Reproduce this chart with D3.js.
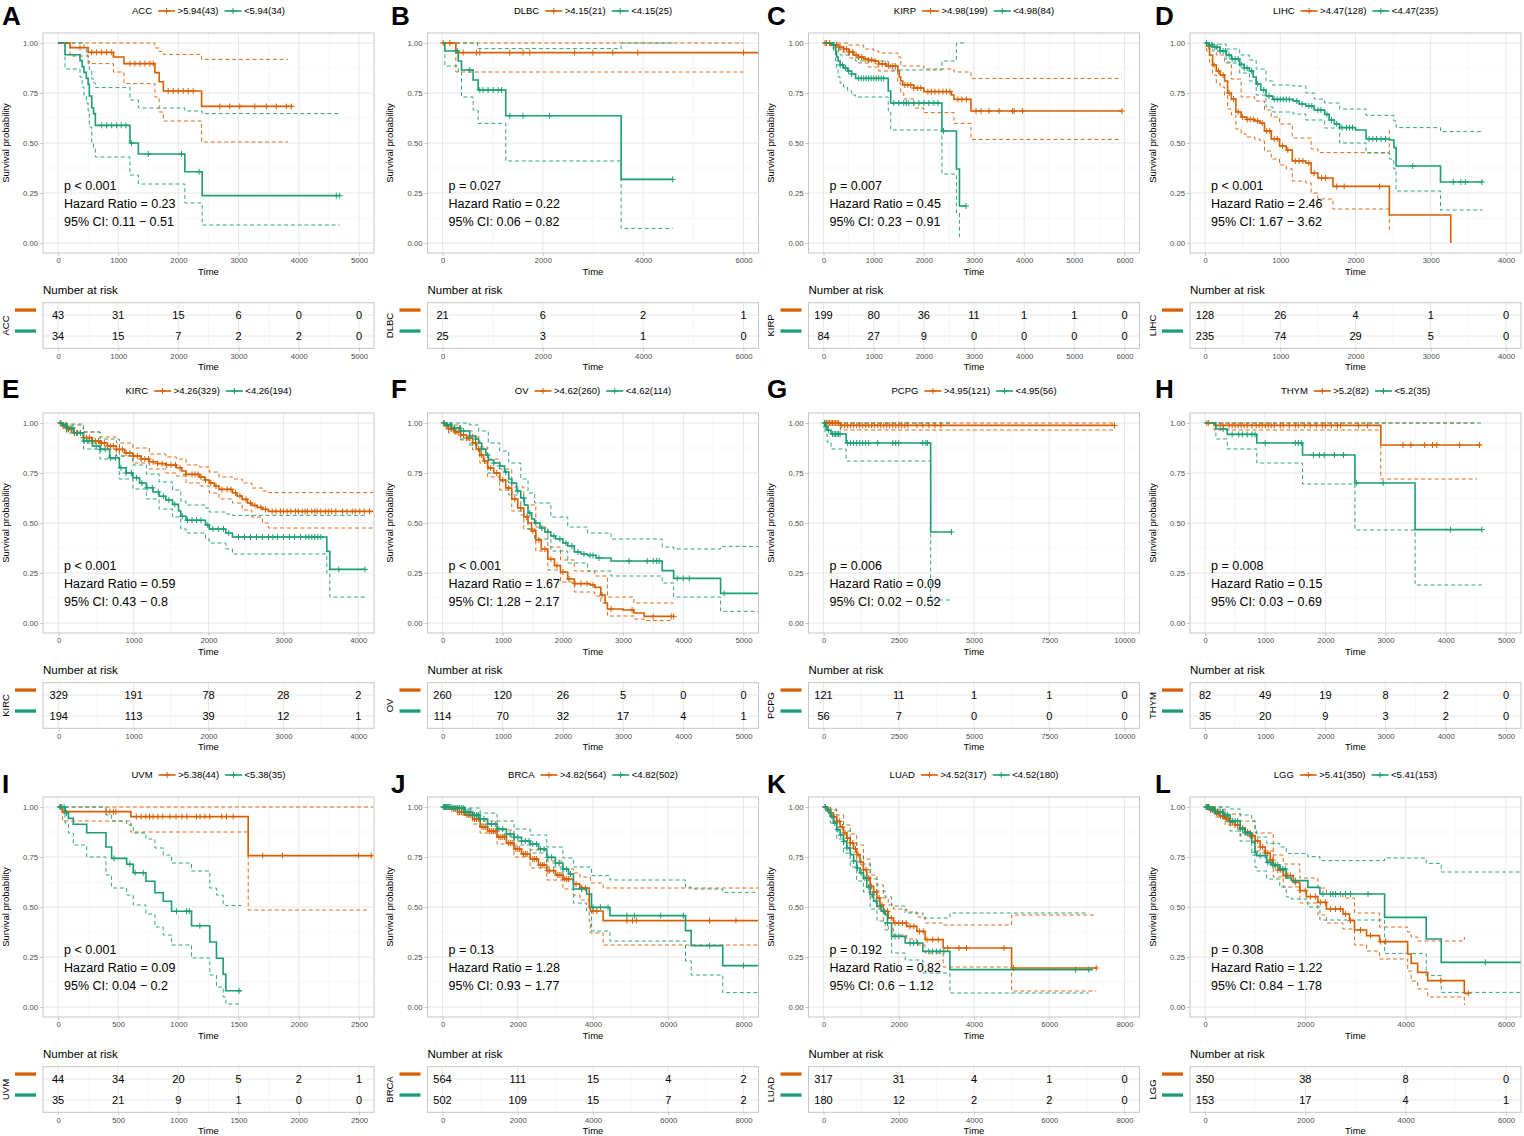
<!DOCTYPE html>
<html lang="en">
<head>
<meta charset="UTF-8" />
<script src="https://cdn.jsdelivr.net/npm/d3@7"></script>
<style>
  body { margin: 0; background: #fff; }
  text { font-family: "Liberation Sans", Arial, Helvetica, sans-serif; }
</style>
<title>KM panels</title>
</head>
<body>
<script>
// ---- data ----
var cancers = ["ACC","DLBC","KIRP","LIHC","KIRC","OV","PCPG","THYM","UVM","BRCA","LUAD","LGG"];
var letters = ["A","B","C","D","E","F","G","H","I","J","K","L"];
var cutoffs = ["5.94","4.15","4.98","4.47","4.26","4.62","4.95","5.2","5.38","4.82","4.52","5.41"];
var nHigh = [43,21,199,128,329,260,121,82,44,564,317,350];
var nLow  = [34,25,84,235,194,114,56,35,35,502,180,153];
var pTexts  = ["p < 0.001","p = 0.027","p = 0.007","p < 0.001","p < 0.001","p < 0.001","p = 0.006","p = 0.008","p < 0.001","p = 0.13","p = 0.192","p = 0.308"];
var hrTexts = ["0.23","0.22","0.45","2.46","0.59","1.67","0.09","0.15","0.09","1.28","0.82","1.22"];
var ciTexts = ["0.11 − 0.51","0.06 − 0.82","0.23 − 0.91","1.67 − 3.62","0.43 − 0.8","1.28 − 2.17","0.02 − 0.52","0.03 − 0.69","0.04 − 0.2","0.93 − 1.77","0.6 − 1.12","0.84 − 1.78"];

var xTicks = [
  [0,1000,2000,3000,4000,5000], [0,2000,4000,6000], [0,1000,2000,3000,4000,5000,6000], [0,1000,2000,3000,4000],
  [0,1000,2000,3000,4000], [0,1000,2000,3000,4000,5000], [0,2500,5000,7500,10000], [0,1000,2000,3000,4000,5000],
  [0,500,1000,1500,2000,2500], [0,2000,4000,6000,8000], [0,2000,4000,6000,8000], [0,2000,4000,6000]
];
var xDomains = [[-250,5250],[-300,6300],[-300,6300],[-200,4200],[-210,4210],[-250,5250],[-500,10500],[-250,5250],[-125,2625],[-400,8400],[-400,8400],[-300,6300]];

var riskHigh = [[43,31,15,6,0,0],[21,6,2,1],[199,80,36,11,1,1,0],[128,26,4,1,0],[329,191,78,28,2],[260,120,26,5,0,0],[121,11,1,1,0],[82,49,19,8,2,0],[44,34,20,5,2,1],[564,111,15,4,2],[317,31,4,1,0],[350,38,8,0]];
var riskLow  = [[34,15,7,2,2,0],[25,3,1,0],[84,27,9,0,0,0,0],[235,74,29,5,0],[194,113,39,12,1],[114,70,32,17,4,1],[56,7,0,0,0],[35,20,9,3,2,0],[35,21,9,1,0,0],[502,109,15,7,2],[180,12,2,2,0],[153,17,4,1]];

// survival steps [time, survival] for the high group
var kmHigh = [
  [[0,1],[200,0.977],[500,0.953],[920,0.93],[1095,0.897],[1610,0.852],[1680,0.806],[1750,0.76],[2385,0.683],[3900,0.683]],
  [[0,1],[265,0.952],[6300,0.952]],
  [[0,1],[150,0.99],[300,0.98],[400,0.97],[500,0.955],[600,0.94],[700,0.93],[800,0.92],[900,0.915],[1000,0.91],[1100,0.895],[1250,0.885],[1480,0.86],[1510,0.83],[1540,0.81],[1580,0.79],[1800,0.775],[2000,0.757],[2550,0.74],[2600,0.718],[2940,0.66],[5950,0.66]],
  [[0,1],[20,0.985],[60,0.94],[100,0.89],[150,0.86],[200,0.84],[260,0.81],[300,0.75],[350,0.72],[410,0.655],[480,0.63],[550,0.618],[660,0.61],[730,0.6],[790,0.56],[880,0.52],[990,0.485],[1080,0.465],[1160,0.41],[1340,0.4],[1410,0.35],[1500,0.325],[1700,0.283],[2450,0.14],[3266,0]],
  [[0,1],[50,0.985],[106,0.97],[200,0.95],[330,0.927],[450,0.91],[550,0.9],[650,0.885],[770,0.868],[880,0.85],[990,0.835],[1100,0.82],[1210,0.806],[1320,0.797],[1430,0.79],[1570,0.776],[1640,0.76],[1700,0.743],[1880,0.73],[1950,0.715],[2010,0.7],[2080,0.685],[2140,0.668],[2320,0.651],[2380,0.635],[2450,0.618],[2520,0.6],[2580,0.588],[2650,0.578],[2720,0.568],[2800,0.558],[4200,0.558]],
  [[0,1],[50,0.985],[100,0.97],[200,0.955],[300,0.94],[400,0.925],[500,0.9],[560,0.87],[620,0.84],[680,0.81],[750,0.775],[850,0.75],[950,0.715],[1050,0.675],[1150,0.62],[1250,0.575],[1350,0.53],[1420,0.5],[1480,0.46],[1550,0.415],[1640,0.37],[1750,0.32],[1860,0.287],[1960,0.255],[2080,0.22],[2190,0.197],[2450,0.19],[2530,0.178],[2630,0.14],[2700,0.1],[2740,0.07],[3000,0.065],[3180,0.05],[3350,0.033],[3840,0.033]],
  [[0,1],[560,0.988],[9670,0.988]],
  [[0,1],[150,0.988],[2920,0.89],[4580,0.89]],
  [[0,1],[36,0.977],[605,0.952],[1580,0.757],[2616,0.757]],
  [[0,1],[200,0.99],[400,0.975],[600,0.96],[800,0.94],[1000,0.9],[1200,0.88],[1450,0.85],[1700,0.82],[1900,0.79],[2100,0.765],[2330,0.74],[2550,0.71],[2770,0.682],[3000,0.66],[3200,0.64],[3480,0.615],[3650,0.595],[3900,0.5],[3930,0.48],[4270,0.432],[8400,0.432]],
  [[0,1],[100,0.985],[180,0.97],[260,0.95],[350,0.928],[440,0.9],[530,0.87],[620,0.845],[710,0.82],[800,0.79],[880,0.762],[970,0.725],[1060,0.687],[1150,0.645],[1240,0.603],[1330,0.575],[1420,0.545],[1500,0.51],[1590,0.478],[1720,0.445],[1860,0.42],[2210,0.403],[2480,0.378],[2700,0.337],[3180,0.295],[5000,0.195],[7260,0.195]],
  [[0,1],[100,0.985],[200,0.97],[300,0.955],[400,0.94],[500,0.925],[600,0.91],[700,0.895],[800,0.875],[900,0.855],[1000,0.83],[1100,0.8],[1200,0.77],[1300,0.735],[1360,0.707],[1450,0.685],[1560,0.657],[1760,0.623],[1890,0.582],[2020,0.552],[2250,0.523],[2420,0.49],[2750,0.465],[2880,0.432],[2980,0.385],[3220,0.357],[3480,0.327],[4040,0.265],[4110,0.218],[4240,0.173],[4440,0.132],[5170,0.068],[5270,0.068]]
];
var upHigh = [
  [[0,1],[1610,0.975],[1680,0.958],[1750,0.943],[2385,0.918],[3822,0.918]],
  [[0,1],[6000,1]],
  [[0,1],[500,0.99],[800,0.97],[1000,0.96],[1100,0.95],[1480,0.93],[1540,0.885],[2000,0.87],[2600,0.855],[2940,0.823],[5950,0.823]],
  [[0,1],[60,0.985],[150,0.94],[260,0.905],[350,0.82],[480,0.73],[660,0.71],[790,0.665],[880,0.63],[990,0.595],[1160,0.525],[1410,0.47],[1500,0.452],[1700,0.452],[2450,0.58]],
  [[0,1],[106,0.99],[330,0.955],[550,0.93],[770,0.9],[990,0.875],[1210,0.845],[1430,0.83],[1570,0.82],[1700,0.79],[1880,0.78],[2010,0.755],[2140,0.73],[2320,0.72],[2450,0.7],[2580,0.675],[2720,0.66],[2800,0.652],[4200,0.652]],
  [[0,1],[100,0.99],[300,0.96],[500,0.93],[620,0.88],[750,0.82],[950,0.77],[1150,0.68],[1350,0.59],[1550,0.48],[1750,0.38],[1960,0.315],[2190,0.26],[2530,0.235],[2740,0.13],[3180,0.1],[3840,0.1]],
  [[0,1],[9670,1]],
  [[0,1],[4520,1]],
  [[0,1],[2616,1]],
  [[0,1],[400,0.99],[800,0.965],[1000,0.93],[1450,0.885],[1900,0.83],[2330,0.785],[2770,0.73],[3200,0.69],[3480,0.67],[3650,0.65],[3930,0.62],[4270,0.595],[8400,0.595]],
  [[0,1],[180,0.99],[350,0.96],[530,0.91],[710,0.865],[880,0.81],[1060,0.74],[1240,0.66],[1420,0.61],[1590,0.545],[1720,0.51],[1860,0.49],[2210,0.475],[2480,0.45],[2700,0.42],[3180,0.41],[5000,0.46],[7250,0.46]],
  [[0,1],[200,0.99],[400,0.965],[700,0.93],[1000,0.87],[1360,0.76],[1560,0.715],[1890,0.645],[2250,0.595],[2420,0.565],[2750,0.545],[2980,0.47],[3480,0.4],[4040,0.375],[4110,0.35],[4240,0.33],[4440,0.33],[5170,0.35]]
];
var loHigh = [
  [[0,1],[200,0.935],[500,0.897],[920,0.855],[1095,0.797],[1610,0.73],[1680,0.655],[1750,0.61],[2385,0.505],[3822,0.505]],
  [[0,1],[265,0.855],[6000,0.855]],
  [[0,1],[150,0.975],[300,0.955],[500,0.925],[700,0.9],[900,0.88],[1100,0.86],[1480,0.8],[1540,0.75],[1600,0.72],[1800,0.675],[2000,0.652],[2600,0.598],[2940,0.518],[5950,0.518]],
  [[0,1],[20,0.96],[60,0.9],[100,0.84],[150,0.8],[200,0.78],[260,0.74],[300,0.67],[350,0.64],[410,0.57],[480,0.545],[550,0.53],[660,0.52],[730,0.51],[790,0.46],[880,0.42],[990,0.39],[1080,0.37],[1160,0.31],[1340,0.3],[1410,0.25],[1500,0.22],[1700,0.17],[2450,0.05]],
  [[0,1],[106,0.955],[330,0.9],[550,0.87],[770,0.835],[990,0.8],[1210,0.77],[1430,0.75],[1570,0.735],[1700,0.7],[1880,0.685],[2010,0.65],[2140,0.62],[2320,0.6],[2450,0.565],[2580,0.53],[2720,0.5],[2800,0.475],[4200,0.475]],
  [[0,1],[100,0.95],[300,0.915],[500,0.865],[620,0.8],[750,0.73],[950,0.665],[1150,0.56],[1350,0.47],[1550,0.36],[1750,0.265],[1960,0.205],[2190,0.155],[2530,0.135],[2630,0.1],[2740,0.035],[3180,0.02],[3350,0.012],[3840,0.012]],
  [[0,1],[560,0.965],[9670,0.965]],
  [[0,1],[150,0.965],[2920,0.72],[4520,0.72]],
  [[0,1],[36,0.93],[605,0.875],[1580,0.485],[2570,0.485]],
  [[0,1],[400,0.96],[800,0.915],[1000,0.87],[1450,0.815],[1900,0.75],[2330,0.695],[2770,0.635],[3200,0.59],[3480,0.56],[3650,0.535],[3900,0.43],[3930,0.37],[4270,0.31],[8400,0.31]],
  [[0,1],[180,0.95],[350,0.9],[530,0.83],[710,0.775],[880,0.71],[1060,0.635],[1240,0.55],[1420,0.49],[1590,0.42],[1720,0.39],[1860,0.36],[2210,0.34],[2480,0.31],[2700,0.27],[3180,0.2],[5000,0.08],[7250,0.08]],
  [[0,1],[200,0.95],[400,0.91],[700,0.86],[1000,0.78],[1360,0.65],[1560,0.6],[1890,0.52],[2250,0.46],[2420,0.42],[2750,0.39],[2980,0.31],[3220,0.28],[3480,0.24],[4040,0.18],[4110,0.13],[4240,0.09],[4440,0.05],[5170,0.01]]
];

// survival steps for the low group
var kmLow = [
  [[0,1],[116,0.941],[365,0.912],[400,0.882],[430,0.853],[470,0.823],[500,0.794],[520,0.735],[560,0.676],[590,0.647],[620,0.588],[1195,0.5],[1335,0.445],[2107,0.356],[2395,0.237],[4680,0.237]],
  [[0,1],[46,0.96],[312,0.91],[378,0.865],[610,0.815],[710,0.765],[1260,0.636],[3561,0.318],[4589,0.318]],
  [[0,1],[200,0.988],[240,0.96],[260,0.93],[290,0.91],[330,0.89],[400,0.875],[480,0.86],[560,0.845],[640,0.823],[1290,0.76],[1340,0.7],[2360,0.56],[2650,0.37],[2710,0.185],[2840,0.185]],
  [[0,1],[50,0.99],[100,0.98],[200,0.96],[280,0.94],[350,0.92],[460,0.893],[520,0.875],[590,0.86],[640,0.83],[680,0.795],[740,0.765],[810,0.735],[900,0.718],[1170,0.71],[1250,0.695],[1340,0.685],[1450,0.665],[1590,0.643],[1650,0.615],[1720,0.595],[1790,0.577],[2000,0.565],[2140,0.52],[2450,0.515],[2510,0.477],[2540,0.385],[3130,0.305],[3690,0.305]],
  [[0,1],[60,0.99],[106,0.975],[200,0.95],[330,0.91],[450,0.885],[550,0.868],[680,0.826],[810,0.776],[900,0.75],[990,0.726],[1080,0.7],[1170,0.676],[1260,0.655],[1340,0.634],[1430,0.615],[1520,0.593],[1600,0.56],[1630,0.534],[1700,0.514],[1960,0.49],[2010,0.47],[2230,0.45],[2320,0.43],[3530,0.43],[3580,0.358],[3620,0.268],[4090,0.268]],
  [[0,1],[60,0.99],[150,0.975],[300,0.96],[450,0.935],[550,0.92],[600,0.9],[650,0.87],[720,0.84],[760,0.815],[850,0.8],[950,0.785],[1030,0.755],[1100,0.72],[1150,0.7],[1230,0.66],[1300,0.625],[1360,0.59],[1420,0.55],[1480,0.52],[1530,0.5],[1620,0.475],[1700,0.455],[1800,0.435],[1880,0.42],[2000,0.4],[2080,0.385],[2190,0.355],[2300,0.345],[2410,0.338],[2550,0.325],[2800,0.31],[3650,0.262],[3840,0.223],[4620,0.148],[5250,0.148]],
  [[0,1],[50,0.982],[120,0.964],[250,0.945],[750,0.9],[3560,0.455],[4250,0.455]],
  [[0,1],[180,0.97],[370,0.943],[860,0.9],[1620,0.84],[2490,0.7],[3490,0.467],[4600,0.467]],
  [[0,1],[58,0.971],[86,0.943],[127,0.914],[238,0.871],[398,0.8],[445,0.743],[570,0.714],[625,0.671],[730,0.629],[805,0.571],[874,0.529],[943,0.479],[1109,0.406],[1261,0.325],[1316,0.244],[1372,0.163],[1394,0.081],[1524,0.081]],
  [[0,1],[300,0.995],[600,0.975],[800,0.96],[1000,0.94],[1200,0.915],[1450,0.89],[1700,0.865],[1900,0.848],[2100,0.83],[2330,0.815],[2550,0.79],[2770,0.748],[3000,0.72],[3200,0.69],[3350,0.665],[3480,0.59],[3830,0.565],[3960,0.498],[4450,0.457],[6460,0.382],[6610,0.307],[7450,0.207],[8400,0.207]],
  [[0,1],[100,0.98],[180,0.955],[260,0.92],[350,0.887],[440,0.86],[530,0.828],[620,0.795],[710,0.762],[800,0.73],[880,0.695],[970,0.67],[1060,0.645],[1150,0.6],[1240,0.562],[1330,0.53],[1420,0.503],[1530,0.48],[1640,0.462],[1700,0.42],[1810,0.353],[2170,0.32],[2640,0.278],[3360,0.187],[7160,0.187]],
  [[0,1],[100,0.99],[200,0.975],[365,0.96],[500,0.93],[700,0.89],[800,0.87],[930,0.823],[995,0.773],[1030,0.757],[1230,0.723],[1330,0.71],[1490,0.69],[1620,0.645],[1720,0.632],[2050,0.598],[2290,0.565],[3580,0.448],[4410,0.34],[4710,0.223],[6300,0.223]]
];
var upLow = [
  [[0,1],[430,0.97],[470,0.94],[500,0.91],[520,0.86],[560,0.82],[590,0.8],[620,0.777],[1195,0.715],[1335,0.675],[2107,0.66],[2395,0.647],[4680,0.647]],
  [[0,1],[700,0.972],[3561,1],[4589,1]],
  [[0,1],[260,0.97],[330,0.94],[640,0.91],[1290,0.9],[1340,0.865],[2360,0.91],[2650,1],[2840,1]],
  [[0,1],[100,0.995],[280,0.97],[460,0.94],[590,0.915],[680,0.87],[810,0.81],[900,0.79],[1170,0.785],[1340,0.75],[1450,0.72],[1590,0.7],[1790,0.67],[2140,0.638],[2510,0.61],[2540,0.577],[3130,0.557],[3690,0.557]],
  [[0,1],[106,0.995],[330,0.955],[550,0.92],[810,0.835],[990,0.79],[1170,0.745],[1340,0.705],[1520,0.665],[1630,0.61],[1700,0.59],[1960,0.575],[2010,0.555],[2230,0.545],[2320,0.538],[4090,0.538]],
  [[0,1],[450,0.99],[600,0.96],[760,0.9],[950,0.86],[1100,0.8],[1300,0.72],[1420,0.65],[1530,0.6],[1800,0.53],[2080,0.48],[2410,0.45],[2800,0.42],[3650,0.38],[3840,0.37],[4620,0.383],[5250,0.383]],
  [[0,1],[4250,1]],
  [[0,1],[4600,1]],
  [[0,1],[398,0.96],[445,0.93],[570,0.91],[625,0.87],[730,0.84],[805,0.795],[874,0.76],[943,0.72],[1109,0.68],[1261,0.595],[1316,0.56],[1372,0.51],[1394,0.507],[1524,0.507]],
  [[0,1],[600,0.995],[1000,0.97],[1450,0.93],[1900,0.89],[2330,0.86],[2770,0.8],[3200,0.745],[3480,0.7],[3960,0.657],[4450,0.635],[6460,0.6],[6610,0.59],[7450,0.573],[8400,0.573]],
  [[0,1],[180,0.985],[350,0.93],[530,0.88],[710,0.82],[880,0.76],[1060,0.715],[1240,0.64],[1420,0.58],[1640,0.55],[1810,0.505],[2170,0.47],[2640,0.445],[3360,0.47],[7050,0.47]],
  [[0,1],[365,1],[500,0.99],[700,0.96],[930,0.93],[995,0.89],[1030,0.85],[1230,0.818],[1490,0.8],[1620,0.768],[2050,0.752],[2290,0.732],[3580,0.745],[4410,0.718],[4710,0.675],[6300,0.675]]
];
var loLow = [
  [[0,1],[116,0.87],[365,0.83],[400,0.78],[430,0.74],[470,0.7],[500,0.66],[520,0.58],[560,0.5],[590,0.47],[620,0.43],[1195,0.34],[1335,0.295],[2107,0.2],[2395,0.09],[4680,0.09]],
  [[0,1],[46,0.885],[312,0.855],[378,0.73],[610,0.665],[710,0.598],[1260,0.41],[3561,0.073],[4589,0.073]],
  [[0,1],[200,0.96],[240,0.91],[260,0.87],[290,0.83],[330,0.8],[400,0.78],[480,0.76],[560,0.74],[640,0.73],[1290,0.66],[1340,0.565],[2360,0.345],[2650,0.15],[2710,0.03]],
  [[0,1],[100,0.96],[280,0.9],[460,0.85],[590,0.81],[680,0.74],[810,0.68],[900,0.655],[1170,0.645],[1340,0.615],[1590,0.575],[1790,0.5],[2140,0.45],[2450,0.42],[2510,0.37],[2540,0.26],[3130,0.165],[3690,0.165]],
  [[0,1],[106,0.95],[330,0.87],[550,0.82],[810,0.72],[990,0.67],[1170,0.62],[1340,0.57],[1520,0.53],[1630,0.47],[1700,0.45],[1960,0.42],[2010,0.4],[2230,0.37],[2320,0.345],[3530,0.345],[3580,0.25],[3620,0.13],[4090,0.13]],
  [[0,1],[150,0.96],[300,0.92],[450,0.89],[600,0.84],[760,0.75],[950,0.71],[1100,0.64],[1300,0.54],[1420,0.47],[1530,0.42],[1800,0.36],[2080,0.3],[2410,0.26],[2800,0.235],[3650,0.2],[3840,0.13],[4620,0.058],[5250,0.058]],
  [[0,1],[50,0.945],[120,0.905],[250,0.87],[750,0.81],[3560,0.115],[4250,0.115]],
  [[0,1],[180,0.92],[370,0.87],[860,0.8],[1620,0.695],[2490,0.465],[3490,0.19],[4600,0.19]],
  [[0,1],[58,0.92],[86,0.87],[127,0.81],[238,0.75],[398,0.66],[445,0.595],[570,0.56],[625,0.51],[730,0.465],[805,0.4],[874,0.36],[943,0.31],[1109,0.245],[1261,0.16],[1316,0.1],[1372,0.05],[1394,0.015],[1524,0.015]],
  [[0,1],[600,0.955],[1000,0.915],[1450,0.855],[1900,0.81],[2330,0.77],[2770,0.7],[3200,0.635],[3480,0.52],[3830,0.48],[3960,0.38],[4450,0.33],[6460,0.23],[6610,0.16],[7450,0.072],[8400,0.072]],
  [[0,1],[180,0.92],[350,0.84],[530,0.77],[710,0.7],[880,0.63],[1060,0.575],[1240,0.49],[1420,0.43],[1640,0.385],[1810,0.27],[2170,0.235],[2640,0.17],[3360,0.07],[7050,0.07]],
  [[0,1],[365,0.93],[500,0.88],[700,0.83],[930,0.76],[995,0.7],[1030,0.68],[1230,0.64],[1490,0.6],[1620,0.55],[1720,0.54],[2050,0.5],[2290,0.435],[3580,0.268],[4410,0.157],[4710,0.073],[6300,0.073]]
];

// censoring times
var censHigh = [
  [365,559,642,725,808,891,1195,1278,1360,1444,1527,1582,1830,1914,1997,2080,2163,2246,2688,2854,3020,3269,3462,3628,3794,3877],
  [13,146,411,676,743,1340,1605,1737,2633,2997,3395,3893,6001],
  [30,60,120,200,260,330,400,460,520,580,650,700,760,830,900,960,1030,1100,1170,1230,1300,1380,1430,1620,1680,1740,1800,1870,1940,2080,2150,2220,2300,2380,2450,2520,2680,2760,2850,3040,3140,3300,3500,3770,3800,3970,5950],
  [50,120,180,240,320,380,440,500,560,600,640,700,760,820,860,920,960,1030,1100,1200,1250,1300,1380,1450,1550,1600,1750,1850,2320],
  [20,60,90,130,170,210,250,290,330,370,410,450,490,530,570,610,650,690,730,770,810,850,900,950,1000,1050,1100,1150,1200,1260,1320,1380,1440,1500,1560,1620,1700,1780,1820,1860,1900,1960,2030,2100,2180,2250,2300,2360,2420,2500,2560,2620,2700,2760,2850,2900,2960,3000,3050,3100,3160,3200,3250,3290,3320,3380,3420,3450,3500,3560,3600,3640,3700,3790,3850,3920,3960,4020,4080,4150],
  [20,60,100,140,180,220,260,300,350,400,450,500,550,600,650,700,800,900,1000,1100,1200,1300,1400,1500,1600,1700,1800,1900,2000,2100,2200,2300,2400,2500,2650,2800,3150,3500,3800,3840],
  [50,100,150,200,250,300,350,400,450,500,600,700,800,900,1000,1100,1200,1300,1400,1500,1600,1700,1800,1900,2000,2100,2200,2300,2400,2500,2600,2700,2800,3100,3300,3500,3700,3900,9670],
  [30,60,250,300,400,450,500,550,600,650,700,780,850,900,950,1000,1050,1100,1150,1250,1300,1400,1500,1550,1650,1750,1850,1950,2000,2100,2200,2250,2550,2700,3290,3420,3650,3780,3850,4230,4560],
  [20,50,400,430,460,480,650,690,730,760,790,830,870,930,980,1030,1070,1150,1180,1220,1260,1360,1400,1455,1700,1864,2497,2602],
  [50,100,150,250,300,350,450,500,550,650,700,750,850,900,950,1050,1100,1150,1250,1300,1350,1400,1500,1550,1600,1650,1750,1800,1850,1950,2000,2050,2150,2200,2250,2400,2450,2500,2600,2650,2700,2800,2850,2950,3050,3100,3150,3250,3300,3350,3550,3700,3800,4000,4100,4900,5050,5150,7100,7800],
  [50,120,200,280,350,420,500,570,640,710,780,850,920,990,1060,1130,1200,1270,1340,1410,1480,1550,1620,1700,1800,1900,2000,2100,2200,2300,2400,2550,2650,2750,2900,3050,3300,3600,3800,4800,5050,7250],
  [30,70,110,150,190,230,270,310,350,390,430,470,510,550,600,650,700,750,800,850,900,950,1000,1050,1100,1150,1200,1250,1300,1350,1400,1450,1500,1550,1600,1650,1700,1800,1900,2000,2100,2200,2300,2400,2500,2600,2700,2800,2900,3100,3300,3500,3600,4700,5250]
];
var censLow = [
  [725,808,891,974,1050,1128,1222,1500,2052,2345,4624,4680],
  [290,544,743,809,908,1008,1107,1174,1340,1605,2135,4589],
  [200,330,380,440,500,560,700,750,800,850,900,950,1000,1050,1100,1150,1200,1400,1500,1600,1650,1700,1800,1900,2000,2100,2200,2280,2390,2840],
  [20,60,90,130,160,200,240,270,320,360,400,440,480,520,560,620,700,780,850,920,960,1000,1040,1080,1120,1220,1290,1380,1420,1500,1540,1620,1680,1750,1820,1880,1920,1960,2180,2230,2280,2340,2400,2760,3300,3400,3460,3680],
  [30,70,110,150,190,240,290,340,390,440,500,560,620,690,760,830,900,970,1040,1110,1180,1250,1330,1400,1470,1550,1650,1720,1780,1840,1900,1990,2060,2130,2200,2270,2400,2480,2560,2640,2720,2800,2860,2920,3000,3080,3150,3230,3300,3340,3380,3420,3460,3500,3740,4090],
  [30,80,130,200,280,350,450,550,650,750,850,950,1050,1150,1250,1350,1450,1550,1650,1750,1850,1950,2050,2150,2250,2350,2450,2500,2600,3100,3400,3500,3560,3600,3900,4000,4100,4680],
  [30,80,160,300,350,400,450,500,550,800,900,1000,1100,1200,1300,1400,1500,1800,2300,2400,2500,3300,3400,3450,4250],
  [300,450,560,620,700,780,830,1000,1500,1550,1600,1800,1900,1980,2150,2300,2520,2960,4080,4600],
  [15,30,50,70,465,597,640,708,985,1067,1090,1178,1504],
  [20,50,80,110,140,170,200,250,300,350,400,450,500,550,600,650,700,750,800,850,900,950,1000,1100,1200,1300,1400,1500,1600,1700,1800,1900,2000,2100,2200,2300,2400,2500,2600,2700,2800,2900,3000,3100,3200,3300,3400,3700,4000,4200,4400,4900,5100,5800,6400,7100,8000],
  [40,130,220,300,380,460,540,620,700,800,900,1000,1100,1200,1300,1400,1500,1600,1700,1900,2000,2300,2400,2500,2800,2900,3000,3100,3200,6700,7050],
  [20,50,80,120,160,200,250,300,350,400,450,500,550,600,650,700,750,800,850,900,1000,1100,1200,1250,1300,1350,1400,1450,1500,1550,1600,1800,2350,2500,2550,2600,2700,2800,2900,3250,5590]
];

// ---- layout ----
var W = 1524, H = 1136;
var colLeft = [43, 427.5, 808.5, 1190], rowOff = [0, 380, 764];
var letterX = [2, 391, 767, 1155], letterY = [25, 398, 793];
var pw = 331, ph = 220;
var orange = "#D95F02", green = "#1B9E77";
var gridMajor = "#e2e2e2", gridMinor = "#efefef", borderCol = "#c6c6c6", tickCol = "#b3b3b3";
var fontFam = '"Liberation Sans", Arial, Helvetica, sans-serif';

var svg = d3.select("body").append("svg")
    .attr("width", W)
    .attr("height", H)
    .style("display", "block");
var defs = svg.append("defs");

var bis = d3.bisector(function(d) { return d[0]; }).right;
function stepValue(curve, t) {
  var k = bis(curve, t) - 1;
  return curve[Math.max(0, k)][1];
}

function styleAxis(ax, size) {
  ax.attr("font-family", fontFam).attr("font-size", size);
  ax.select(".domain").remove();
  ax.selectAll("line").attr("stroke", tickCol).attr("stroke-width", 0.7);
  ax.selectAll("text").attr("fill", "#4d4d4d");
}

cancers.forEach(function(name, i) {
  var col = i % 4, row = Math.floor(i / 4);
  var L = colLeft[col], R = rowOff[row];
  var top = R + 33, bot = top + ph, cx = L + pw / 2;
  var ticks = xTicks[i];
  var stepT = ticks[1] - ticks[0];

  var x = d3.scaleLinear().domain(xDomains[i]).range([L, L + pw]);
  var y = d3.scaleLinear().domain([-0.05, 1.05]).range([bot, top]);
  var minorX = ticks.map(function(t) { return t + stepT / 2; })
                    .filter(function(t) { return t < xDomains[i][1]; });
  var majorY = [0, 0.25, 0.5, 0.75, 1], minorY = [0.125, 0.375, 0.625, 0.875];

  var g = svg.append("g");

  // panel letter
  g.append("text")
    .attr("x", letterX[col]).attr("y", letterY[row])
    .attr("font-size", 26).attr("font-weight", "bold")
    .text(letters[i]);

  // legend on top
  var lg = g.append("g").attr("font-size", 9.5);
  var cur = 0;
  var tt = lg.append("text").attr("x", cur).attr("y", 3.4).text(name);
  cur += tt.node().getComputedTextLength() + 6;
  [[orange, ">" + cutoffs[i] + "(" + nHigh[i] + ")"], [green, "<" + cutoffs[i] + "(" + nLow[i] + ")"]].forEach(function(it, k) {
    lg.append("line").attr("x1", cur).attr("x2", cur + 17).attr("y1", 0).attr("y2", 0)
      .attr("stroke", it[0]).attr("stroke-width", 1.6);
    lg.append("path").attr("d", "M" + (cur + 5.5) + ",0h6M" + (cur + 8.5) + ",-3v6")
      .attr("stroke", it[0]).attr("stroke-width", 1);
    cur += 17 + 2.5;
    var tl = lg.append("text").attr("x", cur).attr("y", 3.4).text(it[1]);
    cur += tl.node().getComputedTextLength() + (k === 0 ? 6 : 0);
  });
  lg.attr("transform", "translate(" + (cx - cur / 2) + "," + (R + 11) + ")");

  // panel background and grid
  g.append("rect").attr("x", L).attr("y", top).attr("width", pw).attr("height", ph).attr("fill", "#fff");
  g.selectAll(null).data(minorX).enter().append("line")
    .attr("x1", function(d) { return x(d); }).attr("x2", function(d) { return x(d); })
    .attr("y1", top).attr("y2", bot).attr("stroke", gridMinor).attr("stroke-width", 0.5);
  g.selectAll(null).data(minorY).enter().append("line")
    .attr("y1", function(d) { return y(d); }).attr("y2", function(d) { return y(d); })
    .attr("x1", L).attr("x2", L + pw).attr("stroke", gridMinor).attr("stroke-width", 0.5);
  g.selectAll(null).data(ticks).enter().append("line")
    .attr("x1", function(d) { return x(d); }).attr("x2", function(d) { return x(d); })
    .attr("y1", top).attr("y2", bot).attr("stroke", gridMajor).attr("stroke-width", 0.8);
  g.selectAll(null).data(majorY).enter().append("line")
    .attr("y1", function(d) { return y(d); }).attr("y2", function(d) { return y(d); })
    .attr("x1", L).attr("x2", L + pw).attr("stroke", gridMajor).attr("stroke-width", 0.8);

  // curves
  defs.append("clipPath").attr("id", "clip" + i).append("rect")
    .attr("x", L).attr("y", top).attr("width", pw).attr("height", ph);
  var cg = g.append("g").attr("clip-path", "url(#clip" + i + ")");
  var line = d3.line()
    .x(function(d) { return x(d[0]); })
    .y(function(d) { return y(d[1]); })
    .curve(d3.curveStepAfter);

  var groups = [
    {km: kmHigh[i], up: upHigh[i], lo: loHigh[i], cens: censHigh[i], color: orange},
    {km: kmLow[i],  up: upLow[i],  lo: loLow[i],  cens: censLow[i],  color: green}
  ];
  groups.forEach(function(gr) {
    [gr.up, gr.lo].forEach(function(ci) {
      cg.append("path").attr("d", line(ci)).attr("fill", "none")
        .attr("stroke", gr.color).attr("stroke-width", 0.9).attr("stroke-dasharray", "4,2.8");
    });
  });
  groups.forEach(function(gr) {
    cg.append("path").attr("d", line(gr.km)).attr("fill", "none")
      .attr("stroke", gr.color).attr("stroke-width", 1.6);
    cg.selectAll(null).data(gr.cens).enter().append("path")
      .attr("d", function(t) {
        var px = x(t), py = y(stepValue(gr.km, t));
        return "M" + (px - 3) + "," + py + "h6M" + px + "," + (py - 3) + "v6";
      })
      .attr("stroke", gr.color).attr("stroke-width", 1);
  });

  g.append("rect").attr("x", L).attr("y", top).attr("width", pw).attr("height", ph)
    .attr("fill", "none").attr("stroke", borderCol).attr("stroke-width", 1);

  // axes
  var ax = g.append("g").attr("transform", "translate(0," + bot + ")")
    .call(d3.axisBottom(x).tickValues(ticks).tickSize(3).tickPadding(2).tickFormat(d3.format("d")));
  styleAxis(ax, 7.7);
  var ay = g.append("g").attr("transform", "translate(" + L + ",0)")
    .call(d3.axisLeft(y).tickValues(majorY).tickSize(3).tickPadding(2).tickFormat(d3.format(".2f")));
  styleAxis(ay, 7.7);

  g.append("text").attr("x", cx).attr("y", bot + 22.1).attr("text-anchor", "middle")
    .attr("font-size", 9.5).text("Time");
  g.append("text")
    .attr("transform", "translate(" + (L - 37.5) + "," + ((top + bot) / 2) + ") rotate(-90)")
    .attr("text-anchor", "middle").attr("dy", "0.35em").attr("font-size", 9.5)
    .text("Survival probability");

  // stats
  [pTexts[i], "Hazard Ratio = " + hrTexts[i], "95% CI: " + ciTexts[i]].forEach(function(s, k) {
    g.append("text").attr("x", L + 21).attr("y", top + [156.5, 174.8, 192.5][k])
      .attr("font-size", 12.5).text(s);
  });

  // risk table
  var tTop = R + 302.7, tH = 45.6, tBot = tTop + tH;
  var rowY = [tTop + 12.3, tTop + 33.3];
  g.append("text").attr("x", L).attr("y", R + 294.1).attr("font-size", 11.5).text("Number at risk");
  g.append("rect").attr("x", L).attr("y", tTop).attr("width", pw).attr("height", tH).attr("fill", "#fff");
  g.selectAll(null).data(minorX).enter().append("line")
    .attr("x1", function(d) { return x(d); }).attr("x2", function(d) { return x(d); })
    .attr("y1", tTop).attr("y2", tBot).attr("stroke", gridMinor).attr("stroke-width", 0.5);
  g.selectAll(null).data(ticks).enter().append("line")
    .attr("x1", function(d) { return x(d); }).attr("x2", function(d) { return x(d); })
    .attr("y1", tTop).attr("y2", tBot).attr("stroke", gridMajor).attr("stroke-width", 0.8);
  g.selectAll(null).data(rowY).enter().append("line")
    .attr("y1", function(d) { return d; }).attr("y2", function(d) { return d; })
    .attr("x1", L).attr("x2", L + pw).attr("stroke", gridMajor).attr("stroke-width", 0.8);
  g.append("rect").attr("x", L).attr("y", tTop).attr("width", pw).attr("height", tH)
    .attr("fill", "none").attr("stroke", borderCol).attr("stroke-width", 1);

  [riskHigh[i], riskLow[i]].forEach(function(vals, k) {
    g.selectAll(null).data(vals).enter().append("text")
      .attr("x", function(d, j) { return x(ticks[j]); })
      .attr("y", rowY[k] + 4)
      .attr("text-anchor", "middle").attr("font-size", 11)
      .text(function(d) { return d; });
    g.append("rect").attr("x", L - 28).attr("y", rowY[k] - 6.6).attr("width", 21).attr("height", 3.3)
      .attr("fill", k === 0 ? orange : green);
  });
  g.append("text")
    .attr("transform", "translate(" + (L - 37.5) + "," + (tTop + tH / 2) + ") rotate(-90)")
    .attr("text-anchor", "middle").attr("dy", "0.35em").attr("font-size", 9.5)
    .text(name);

  var at = g.append("g").attr("transform", "translate(0," + tBot + ")")
    .call(d3.axisBottom(x).tickValues(ticks).tickSize(3).tickPadding(2).tickFormat(d3.format("d")));
  styleAxis(at, 7.7);
  g.append("text").attr("x", cx).attr("y", tBot + 21.8).attr("text-anchor", "middle")
    .attr("font-size", 9.5).text("Time");
});
</script>
</body>
</html>
